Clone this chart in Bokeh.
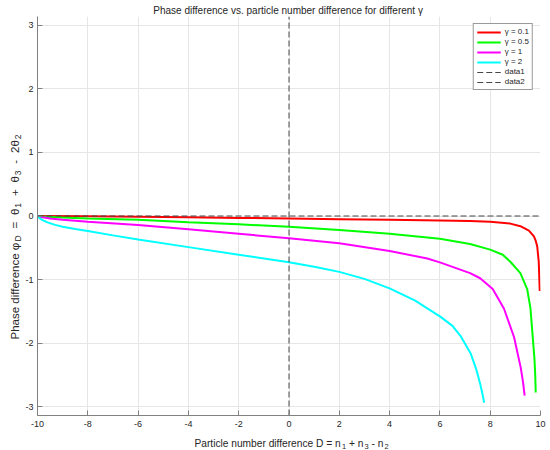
import numpy as np
from bokeh.plotting import figure
from bokeh.models import Range1d, FixedTicker, Label, Legend, LegendItem
from bokeh.layouts import column, row
from bokeh.embed import file_html
from bokeh.resources import INLINE

# ---------------- data ----------------
x_ticks = [-10, -8, -6, -4, -2, 0, 2, 4, 6, 8, 10]
x_tick_labels = ["-10", "-8", "-6", "-4", "-2", "0", "2", "4", "6", "8", "10"]
y_ticks = [-3, -2, -1, 0, 1, 2, 3]
y_tick_labels = ["-3", "-2", "-1", "0", "1", "2", "3"]

series_labels = ["γ = 0.1", "γ = 0.5", "γ = 1", "γ = 2"]
series_colors = ["#ff0000", "#00ff00", "#ff00ff", "#00ffff"]

D_g01 = [-10, -8, -6, -4, -2, 0, 2, 4, 6, 7.2, 8.0, 8.8, 9.2, 9.54, 9.74, 9.81, 9.87,
         9.93, 9.97]
phi_g01 = [0.0, -0.005, -0.01, -0.02, -0.03, -0.04, -0.05, -0.06, -0.07, -0.08, -0.09,
           -0.12, -0.16, -0.23, -0.32, -0.39, -0.48, -0.72, -1.18]

D_g05 = [-10, -9.8, -9, -8, -6, -4, -2, 0, 2, 4, 6, 7.2, 8.0, 8.5, 8.8, 9.2, 9.47, 9.6,
         9.66, 9.72, 9.76, 9.79, 9.81]
phi_g05 = [0.0, -0.008, -0.025, -0.04, -0.06, -0.10, -0.13, -0.17, -0.22, -0.28, -0.36,
           -0.44, -0.53, -0.61, -0.72, -0.90, -1.15, -1.45, -1.75, -2.05, -2.25, -2.5, -2.78]

D_g1 = [-10, -9.85, -9.5, -9, -8, -6, -4, -2, 0, 2, 4, 5.5, 6, 7.2, 7.6, 8.1, 8.55, 8.95,
        9.21, 9.3, 9.37]
phi_g1 = [0.0, -0.015, -0.04, -0.06, -0.09, -0.14, -0.21, -0.28, -0.35, -0.43, -0.55,
          -0.67, -0.73, -0.90, -0.98, -1.15, -1.46, -1.91, -2.38, -2.6, -2.83]

D_g2 = [-10, -9.93, -9.8, -9.6, -9.3, -9, -8.5, -8, -7, -6, -4, -2, 0, 1, 2, 3, 4, 5, 6,
        6.5, 6.84, 7.23, 7.45, 7.6, 7.7, 7.76]
phi_g2 = [0.0, -0.03, -0.065, -0.10, -0.14, -0.17, -0.205, -0.235, -0.305, -0.37, -0.49,
          -0.61, -0.73, -0.80, -0.88, -0.99, -1.14, -1.33, -1.58, -1.73, -1.90, -2.17,
          -2.42, -2.64, -2.82, -2.94]

ref1_x = [-10, 10]          # data1: horizontal zero line
ref1_y = [0, 0]
ref2_x = [0, 0]             # data2: vertical zero line
ref2_y = [-np.pi, np.pi]
ref_labels = ["data1", "data2"]

title_text = "Phase difference vs. particle number difference for different  γ"
xlabel_pieces = [("Particle number difference D = n", False), ("1", True),
                 (" + n", False), ("3", True), (" - n", False), ("2", True)]
ylabel_pieces = [("Phase difference φ", False), ("D", True), (" =", False), (" θ", False),
                 ("1", True), (" +", False), (" θ", False), ("3", True), (" -", False),
                 (" 2θ", False), ("2", True)]

# ---------------- layout sizes ----------------
FONT = "Liberation Sans"
TOTAL_W, TOTAL_H = 550, 450
TITLE_H = 16
YLAB_W = 22
MAIN_W = TOTAL_W - YLAB_W
MAIN_H = 417
XLAB_H = TOTAL_H - TITLE_H - MAIN_H
ML, MR, MB = 12, 10, 18


def blank_fig(w, h):
    f = figure(width=w, height=h, output_backend="svg", toolbar_location=None,
               x_axis_type=None, y_axis_type=None, min_border=0,
               x_range=Range1d(0, w), y_range=Range1d(0, h))
    f.outline_line_color = None
    f.background_fill_color = "white"
    f.border_fill_color = "white"
    return f


# ---------------- main figure ----------------
p = figure(width=MAIN_W, height=MAIN_H, output_backend="svg", toolbar_location=None,
           x_range=Range1d(-10, 10), y_range=Range1d(-np.pi, np.pi),
           min_border_left=ML, min_border_right=MR, min_border_top=0,
           min_border_bottom=MB)
p.outline_line_color = None
p.background_fill_color = "white"
p.border_fill_color = "white"

p.xaxis.ticker = FixedTicker(ticks=x_ticks)
p.yaxis.ticker = FixedTicker(ticks=y_ticks)
p.xaxis.major_label_overrides = {t: s for t, s in zip(x_ticks, x_tick_labels)}
p.yaxis.major_label_overrides = {t: s for t, s in zip(y_ticks, y_tick_labels)}
for ax in (p.xaxis, p.yaxis):
    ax.axis_line_color = "#808080"
    ax.major_tick_line_color = "#808080"
    ax.minor_tick_line_color = None
    ax.major_tick_in = 5
    ax.major_tick_out = 0
    ax.major_label_text_font = FONT
    ax.major_label_text_font_size = "9px"
    ax.major_label_text_color = "#262626"
p.yaxis.major_label_standoff = 4
p.xaxis.major_label_standoff = 5
p.grid.grid_line_color = "#e6e6e6"
p.grid.grid_line_width = 1

items = []
for D, phi, col, lab in zip([D_g01, D_g05, D_g1, D_g2],
                            [phi_g01, phi_g05, phi_g1, phi_g2],
                            series_colors, series_labels):
    r = p.line(D, phi, line_color=col, line_width=2)
    items.append(LegendItem(label=lab, renderers=[r]))

r1 = p.line(ref1_x, ref1_y, line_color="#474747", line_width=1, line_dash="6 3")
r2 = p.line(ref2_x, ref2_y, line_color="#474747", line_width=1, line_dash="6 3")
items.append(LegendItem(label=ref_labels[0], renderers=[r1]))
items.append(LegendItem(label=ref_labels[1], renderers=[r2]))

legend = Legend(items=items, location="top_right", margin=7, padding=3, spacing=1,
                glyph_width=24, glyph_height=8, label_height=8, label_standoff=4,
                label_text_font=FONT, label_text_font_size="8px",
                label_text_color="#262626", border_line_color="#333333",
                border_line_width=1, background_fill_color="white",
                background_fill_alpha=1.0)
p.add_layout(legend)

# ---------------- texts ----------------
W_EM = {' ': 0.278, 'P': 0.667, 'h': 0.556, 'a': 0.556, 's': 0.5, 'e': 0.556, 'd': 0.556,
        'i': 0.222, 'f': 0.278, 'r': 0.333, 'n': 0.556, 'c': 0.5, 't': 0.278, 'l': 0.222,
        'u': 0.556, 'm': 0.833, 'b': 0.556, 'D': 0.722, '=': 0.584, '+': 0.584, '-': 0.333,
        '1': 0.556, '2': 0.556, '3': 0.556, 'φ': 0.65, 'θ': 0.556, 'o': 0.556, 'v': 0.5,
        '.': 0.278, 'γ': 0.5}


def wem(s):
    return sum(W_EM.get(ch, 0.55) for ch in s)


def add_pieces(fig, pieces, horizontal, start, base, main_size, sub_size, sub_shift,
               gap=1.0, extra_space=0.0):
    pos = start
    for txt, is_sub in pieces:
        size = sub_size if is_sub else main_size
        stripped = txt.lstrip(" ")
        nlead = len(txt) - len(stripped)
        pos += nlead * (W_EM[' '] * size + extra_space)
        if is_sub:
            pos += gap
        if horizontal:
            lab = Label(x=pos, y=base - (sub_shift if is_sub else 0),
                        x_units="screen", y_units="screen", text=stripped,
                        text_align="left", text_baseline="alphabetic",
                        text_font=FONT, text_font_size=f"{size}px",
                        text_color="#262626")
        else:
            lab = Label(x=base + (sub_shift if is_sub else 0), y=pos,
                        x_units="screen", y_units="screen", text=stripped,
                        angle=np.pi / 2, text_align="left", text_baseline="alphabetic",
                        text_font=FONT, text_font_size=f"{size}px",
                        text_color="#262626")
        fig.add_layout(lab)
        pos += wem(stripped) * size


def total_len(pieces, main_size, sub_size, gap=1.0, extra_space=0.0):
    t = 0
    for txt, is_sub in pieces:
        t += wem(txt) * (sub_size if is_sub else main_size) + (gap if is_sub else 0)
        stripped = txt.lstrip(" ")
        t += (len(txt) - len(stripped)) * extra_space
    return t


def n_lead_spaces(pieces):
    return sum(len(t) - len(t.lstrip(" ")) for t, _ in pieces)


# title
title_fig = blank_fig(TOTAL_W, TITLE_H)
title_fig.add_layout(Label(x=289, y=TITLE_H - 10, x_units="screen", y_units="screen",
                           text=title_text, text_align="center", text_baseline="middle",
                           text_font=FONT, text_font_size="10px", text_color="#262626"))

# y label (runs upward from about y=342 in the page)
ylab_fig = blank_fig(YLAB_W, MAIN_H)
yl_main, yl_sub = 11.5, 8.5
y_start = MAIN_H - (357 - TITLE_H)
y_span = 205
y_extra = (y_span - total_len(ylabel_pieces, yl_main, yl_sub)) / n_lead_spaces(ylabel_pieces)
add_pieces(ylab_fig, ylabel_pieces, False, y_start, 14.0, yl_main, yl_sub, 3,
           extra_space=max(0.0, y_extra))

# x label
xlab_fig = blank_fig(TOTAL_W, XLAB_H)
xl_main, xl_sub = 10.2, 7.5
xl_len = total_len(xlabel_pieces, xl_main, xl_sub)
add_pieces(xlab_fig, xlabel_pieces, True, 291 - xl_len / 2, XLAB_H - 10,
           xl_main, xl_sub, 3)

layout = column(title_fig, row(ylab_fig, p), xlab_fig)

open("out.html", "w").write(file_html(layout, INLINE))
